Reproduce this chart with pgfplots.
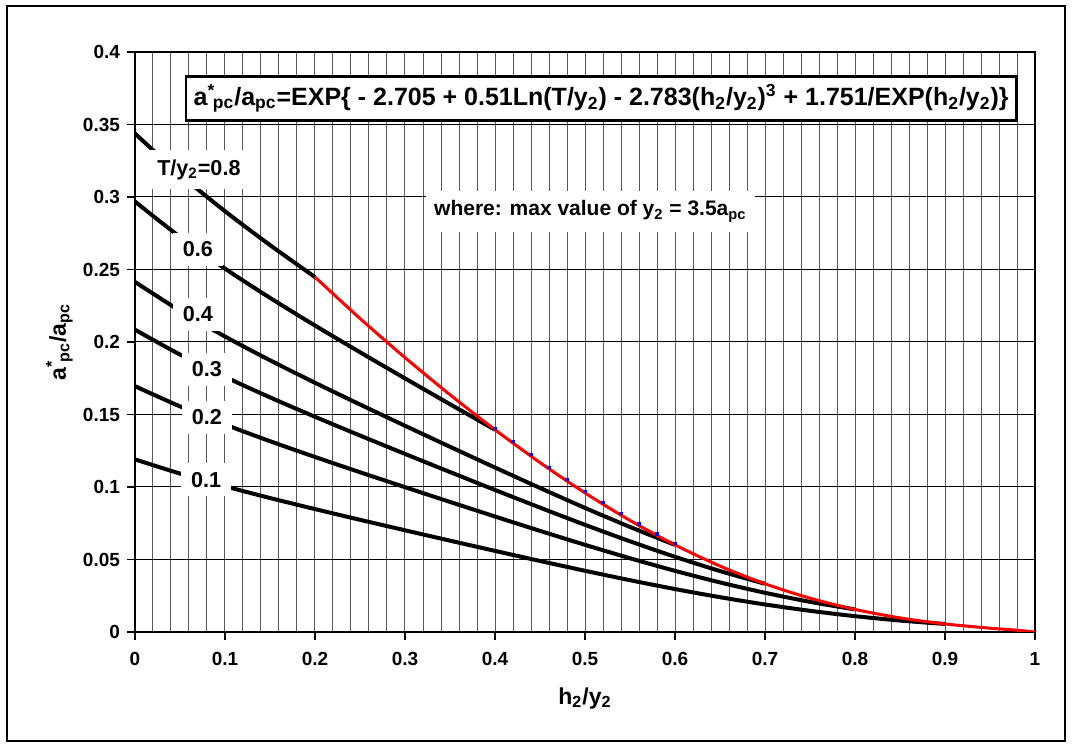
\documentclass[border=0pt]{standalone}
\usepackage{fontspec}
\setmainfont{Liberation Sans}
\usepackage{pgfplots}
\pgfplotsset{compat=1.18}

\begin{document}
\begin{tikzpicture}
\begin{axis}[
    scale only axis,
    width=450pt, height=290pt,
    xmin=0, xmax=1, ymin=0, ymax=0.4,
    xtick={0,0.1,0.2,0.3,0.4,0.5,0.6,0.7,0.8,0.9,1},
    ytick={0,0.05,0.1,0.15,0.2,0.25,0.3,0.35,0.4},
    minor x tick num=4,
    grid=both,
    every major x grid/.style={line width=0.5pt, black!65},
    every minor x grid/.style={line width=0.5pt, black!65},
    every major y grid/.style={line width=0.5pt, black},
    xtick pos=left, ytick pos=left,
    tick align=outside,
    major tick length=4pt, minor tick length=0pt,
    tick style={black, line width=0.6pt},
    axis line style={line width=1.2pt},
    /pgf/number format/assume math mode=true,
    /pgf/number format/fixed,
    /pgf/number format/precision=2,
    ticklabel style={font=\bfseries\fontsize{9.5}{11}\selectfont},
    xticklabel style={yshift=-2.5pt},
    xlabel={h\textsubscript{2}/y\textsubscript{2}},
    ylabel={a\textsuperscript{*}\kern-0.1em\textsubscript{pc}/a\textsubscript{pc}},
    label style={font=\bfseries\fontsize{11.5}{13}\selectfont},
    xlabel style={at={(axis description cs:0.5,-0.114)}, anchor=center},
    ylabel style={at={(axis description cs:-0.084,0.5)}, anchor=center},
]

% T/y2 = 0.8
\addplot[black, line width=2pt, smooth] coordinates {
    (0,0.34376) (0.05,0.31552) (0.1,0.29019) (0.15,0.26685) (0.2,0.24476)
};
% T/y2 = 0.6
\addplot[black, line width=2pt, smooth] coordinates {
    (0,0.29685) (0.05,0.27246) (0.1,0.25059) (0.15,0.23043) (0.2,0.21136)
    (0.25,0.19295) (0.3,0.17491) (0.35,0.15709) (0.4,0.13947)
};
% T/y2 = 0.4
\addplot[black, line width=2pt, smooth] coordinates {
    (0,0.24140) (0.05,0.22156) (0.1,0.20378) (0.15,0.18739) (0.2,0.17188)
    (0.25,0.15690) (0.3,0.14223) (0.35,0.12775) (0.4,0.11342) (0.45,0.09932)
    (0.5,0.08559) (0.55,0.07243) (0.6,0.06006)
};
% T/y2 = 0.3
\addplot[black, line width=2pt, smooth] coordinates {
    (0,0.20846) (0.05,0.19133) (0.1,0.17597) (0.15,0.16182) (0.2,0.14842)
    (0.25,0.13549) (0.3,0.12282) (0.35,0.11031) (0.4,0.09794) (0.45,0.08577)
    (0.5,0.07391) (0.55,0.06255) (0.6,0.05186) (0.65,0.04204) (0.7,0.03324)
};
% T/y2 = 0.2
\addplot[black, line width=2pt, smooth] coordinates {
    (0,0.16952) (0.05,0.15559) (0.1,0.14310) (0.15,0.13159) (0.2,0.12070)
    (0.25,0.11018) (0.3,0.09988) (0.35,0.08971) (0.4,0.07964) (0.45,0.06974)
    (0.5,0.06011) (0.55,0.05086) (0.6,0.04217) (0.65,0.03418) (0.7,0.02703)
    (0.75,0.02080) (0.8,0.01555)
};
% T/y2 = 0.1
\addplot[black, line width=2pt, smooth] coordinates {
    (0,0.11904) (0.05,0.10926) (0.1,0.10049) (0.15,0.09240) (0.2,0.08476)
    (0.25,0.07737) (0.3,0.07014) (0.35,0.06299) (0.4,0.05593) (0.45,0.04898)
    (0.5,0.04221) (0.55,0.03572) (0.6,0.02961) (0.65,0.02400) (0.7,0.01898)
    (0.75,0.01461) (0.8,0.01092) (0.85,0.00791) (0.9,0.00554)
};
% blue points on the envelope
\addplot[only marks, mark=square*, mark size=0.6pt, blue,
    every mark/.append style={yshift=0.8pt}] coordinates {
    (0.40,0.13947) (0.42,0.13024) (0.44,0.12122) (0.46,0.11252) (0.48,0.10408)
    (0.50,0.09591) (0.52,0.08809) (0.54,0.08056) (0.56,0.07337) (0.58,0.06655)
    (0.60,0.06006)
};
% envelope, T/y2 = 1 - h2/y2
\addplot[red, line width=1.5pt, smooth] coordinates {
    (0.2,0.24476) (0.25,0.21621) (0.3,0.18921) (0.35,0.16364) (0.4,0.13947)
    (0.45,0.11683) (0.5,0.09591) (0.55,0.07692) (0.6,0.06006) (0.65,0.04547)
    (0.7,0.03324) (0.75,0.02331) (0.8,0.01555) (0.85,0.00972) (0.9,0.00554)
    (0.95,0.00263) (0.975,0.00150) (1,0)
};

\tikzset{lbl/.style={fill=white, inner xsep=5pt, inner ysep=4.5pt,
    font=\bfseries\fontsize{10.8}{13}\selectfont}}
\node[lbl] at (axis cs:0.071,0.319) {T/y\textsubscript{2}=0.8};
\node[lbl] at (axis cs:0.070,0.264) {0.6};
\node[lbl] at (axis cs:0.070,0.219) {0.4};
\node[lbl] at (axis cs:0.080,0.181) {0.3};
\node[lbl] at (axis cs:0.080,0.148) {0.2};
\node[lbl] at (axis cs:0.079,0.105) {0.1};
\node[fill=white, inner xsep=4pt, inner ysep=5pt,
    font=\bfseries\fontsize{10.5}{12}\selectfont]
    at (axis cs:0.506,0.290) {where: max value of y\textsubscript{2} = 3.5a\textsubscript{pc}};
\node[draw, line width=1.2pt, fill=white, inner sep=4pt,
    font=\bfseries\fontsize{12.5}{15}\selectfont] at (axis cs:0.518,0.368)
    {a\textsuperscript{*}\kern-0.1em\textsubscript{pc}/a\textsubscript{pc}=EXP\{ - 2.705 + 0.51Ln(T/y\textsubscript{2}) - 2.783(h\textsubscript{2}/y\textsubscript{2})\textsuperscript{3} + 1.751/EXP(h\textsubscript{2}/y\textsubscript{2})\}};
\end{axis}
\draw[line width=1pt] ([shift={(-64pt,-54.5pt)}]current axis.south west)
    rectangle ([shift={(15pt,23pt)}]current axis.north east);
\path[use as bounding box] ([shift={(-67.5pt,-57.5pt)}]current axis.south west)
    rectangle ([shift={(18.5pt,26pt)}]current axis.north east);
\end{tikzpicture}
\end{document}
